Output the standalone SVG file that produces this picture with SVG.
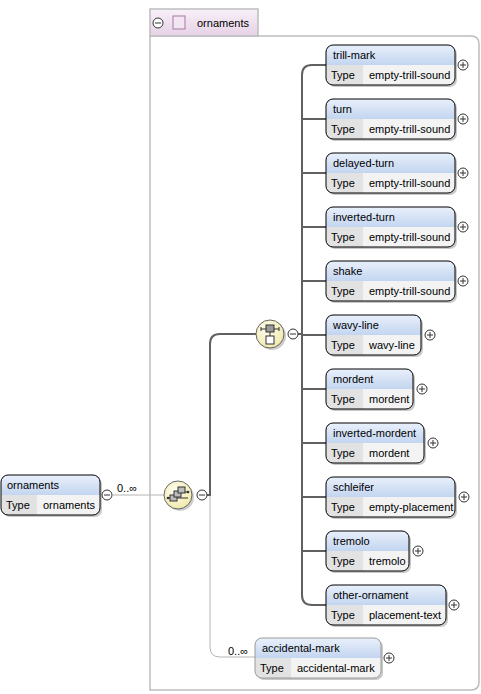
<svg xmlns="http://www.w3.org/2000/svg" width="481" height="694" viewBox="0 0 481 694">
<defs>
<linearGradient id="hdr" x1="0" y1="0" x2="0" y2="1"><stop offset="0" stop-color="#e9f0fb"/><stop offset="1" stop-color="#c3d5f0"/></linearGradient>
<linearGradient id="tab" x1="0" y1="0" x2="0" y2="1"><stop offset="0" stop-color="#f8f0f8"/><stop offset="1" stop-color="#e6d2e6"/></linearGradient>
<radialGradient id="ico" cx="0.4" cy="0.35" r="0.7"><stop offset="0" stop-color="#fffdf0"/><stop offset="1" stop-color="#f1e9a8"/></radialGradient>
</defs>
<style>
text{font-family:"Liberation Sans",Arial,sans-serif;font-size:11px;fill:#000}
.sh{fill:#9a9a9a;opacity:.55}
.hd{fill:url(#hdr)}
.tc{fill:#e2e2e2}
.vc{fill:#f3f3f3}
.ol{fill:none;stroke:#000;stroke-width:1}
.opt{fill:none;stroke:#9a9a9a;stroke-width:1}
.pc{fill:#fff;stroke:#333;stroke-width:1}
.pl{stroke:#333;stroke-width:1;fill:none}
.dk{fill:none;stroke:#606060;stroke-width:2}
.lt{fill:none;stroke:#b4b4b4;stroke-width:1}
</style>

<g id="group-ornaments">
<path d="M150,36H471Q479,36 479,44V682Q479,690 471,690H150Z" fill="none" stroke="#bdbdbd" stroke-width="1.5"/>
<rect x="150" y="9" width="108" height="27" fill="url(#tab)" stroke="#bdbdbd" stroke-width="1.5"/>
<circle class="pc" cx="158" cy="23" r="5"/><path class="pl" d="M155,23H161"/>
<rect x="173" y="16" width="12" height="13" fill="#f1e6f1" stroke="#a878a8"/>
<text x="197" y="27">ornaments</text>
</g>

<g id="connectors">
<path class="lt" d="M113,495H164"/>
<path class="dk" d="M207,495H210V344Q210,334 220,334H256"/>
<path class="lt" d="M210,496V647Q210,657 220,657H255"/>
<path class="dk" d="M298,334H302"/>
<path class="dk" d="M326,65H312Q302,65 302,75V595Q302,605 312,605H326"/>
<path class="dk" d="M302,119H326M302,173H326M302,227H326M302,281H326M302,335H326M302,389H326M302,443H326M302,497H326M302,551H326"/>
<text x="117" y="492">0..∞</text>
<text x="228" y="655">0..∞</text>
</g>

<g id="root-ornaments" transform="translate(1,475)">
<rect class="sh" x="2" y="2" width="99" height="40" rx="7"/>
<path class="hd" d="M0,20V7Q0,0 7,0H92Q99,0 99,7V20Z"/>
<path class="tc" d="M0,20H36V40H7Q0,40 0,33Z"/>
<path class="vc" d="M36,20H99V33Q99,40 92,40H36Z"/>
<rect class="ol" width="99" height="40" rx="7"/>
<text x="6" y="14">ornaments</text>
<text x="5" y="34">Type</text>
<text x="42" y="34">ornaments</text>
<circle class="pc" cx="106" cy="20" r="5"/><path class="pl" d="M103,20H109"/>
</g>

<g id="sequence" transform="translate(178,495)">
<circle cx="2" cy="2" r="14" fill="#9a9a9a" opacity=".5"/>
<circle r="14" fill="url(#ico)" stroke="#666"/>
<path d="M-10,3H10" stroke="#333"/>
<circle cx="-10" cy="3" r="1.3" fill="#333"/><circle cx="10" cy="-3" r="1.3" fill="#333"/>
<rect x="-8" y="0" width="7" height="6" fill="#bdbdbd" stroke="#333"/>
<rect x="-4" y="-4" width="7" height="6" fill="#bdbdbd" stroke="#333"/>
<rect x="0" y="-8" width="7" height="6" fill="#bdbdbd" stroke="#333"/>
<path d="M7,-3H10" stroke="#333"/>
<circle class="pc" cx="24" cy="0" r="5"/><path class="pl" d="M21,0H27"/>
</g>

<g id="choice" transform="translate(270,334)">
<circle cx="2" cy="2" r="14" fill="#9a9a9a" opacity=".5"/>
<circle r="14" fill="url(#ico)" stroke="#666"/>
<path d="M-9,-5H9M0,-2V2" stroke="#333"/>
<path d="M-9,-7V-3M9,-7V-3" stroke="#333"/>
<rect x="-4" y="-9" width="8" height="7" fill="#9a9a9a" stroke="#333"/>
<rect x="-4" y="2" width="8" height="8" fill="#fff" stroke="#333"/>
<circle class="pc" cx="23" cy="0" r="5"/><path class="pl" d="M20,0H26"/>
</g>

<g id="n-trill-mark" transform="translate(326,45)">
<rect class="sh" x="2" y="2" width="129" height="40" rx="7"/>
<path class="hd" d="M0,20V7Q0,0 7,0H122Q129,0 129,7V20Z"/>
<path class="tc" d="M0,20H37V40H7Q0,40 0,33Z"/>
<path class="vc" d="M37,20H129V33Q129,40 122,40H37Z"/>
<rect class="ol" width="129" height="40" rx="7"/>
<text x="7" y="14">trill-mark</text><text x="5" y="34">Type</text><text x="43" y="34">empty-trill-sound</text>
<circle class="pc" cx="137" cy="20" r="5"/><path class="pl" d="M134,20H140M137,17V23"/>
</g>

<g id="n-turn" transform="translate(326,99)">
<rect class="sh" x="2" y="2" width="129" height="40" rx="7"/>
<path class="hd" d="M0,20V7Q0,0 7,0H122Q129,0 129,7V20Z"/>
<path class="tc" d="M0,20H37V40H7Q0,40 0,33Z"/>
<path class="vc" d="M37,20H129V33Q129,40 122,40H37Z"/>
<rect class="ol" width="129" height="40" rx="7"/>
<text x="7" y="14">turn</text><text x="5" y="34">Type</text><text x="43" y="34">empty-trill-sound</text>
<circle class="pc" cx="137" cy="20" r="5"/><path class="pl" d="M134,20H140M137,17V23"/>
</g>

<g id="n-delayed-turn" transform="translate(326,153)">
<rect class="sh" x="2" y="2" width="129" height="40" rx="7"/>
<path class="hd" d="M0,20V7Q0,0 7,0H122Q129,0 129,7V20Z"/>
<path class="tc" d="M0,20H37V40H7Q0,40 0,33Z"/>
<path class="vc" d="M37,20H129V33Q129,40 122,40H37Z"/>
<rect class="ol" width="129" height="40" rx="7"/>
<text x="7" y="14">delayed-turn</text><text x="5" y="34">Type</text><text x="43" y="34">empty-trill-sound</text>
<circle class="pc" cx="137" cy="20" r="5"/><path class="pl" d="M134,20H140M137,17V23"/>
</g>

<g id="n-inverted-turn" transform="translate(326,207)">
<rect class="sh" x="2" y="2" width="129" height="40" rx="7"/>
<path class="hd" d="M0,20V7Q0,0 7,0H122Q129,0 129,7V20Z"/>
<path class="tc" d="M0,20H37V40H7Q0,40 0,33Z"/>
<path class="vc" d="M37,20H129V33Q129,40 122,40H37Z"/>
<rect class="ol" width="129" height="40" rx="7"/>
<text x="7" y="14">inverted-turn</text><text x="5" y="34">Type</text><text x="43" y="34">empty-trill-sound</text>
<circle class="pc" cx="137" cy="20" r="5"/><path class="pl" d="M134,20H140M137,17V23"/>
</g>

<g id="n-shake" transform="translate(326,261)">
<rect class="sh" x="2" y="2" width="129" height="40" rx="7"/>
<path class="hd" d="M0,20V7Q0,0 7,0H122Q129,0 129,7V20Z"/>
<path class="tc" d="M0,20H37V40H7Q0,40 0,33Z"/>
<path class="vc" d="M37,20H129V33Q129,40 122,40H37Z"/>
<rect class="ol" width="129" height="40" rx="7"/>
<text x="7" y="14">shake</text><text x="5" y="34">Type</text><text x="43" y="34">empty-trill-sound</text>
<circle class="pc" cx="137" cy="20" r="5"/><path class="pl" d="M134,20H140M137,17V23"/>
</g>

<g id="n-wavy-line" transform="translate(326,315)">
<rect class="sh" x="2" y="2" width="95" height="40" rx="7"/>
<path class="hd" d="M0,20V7Q0,0 7,0H88Q95,0 95,7V20Z"/>
<path class="tc" d="M0,20H37V40H7Q0,40 0,33Z"/>
<path class="vc" d="M37,20H95V33Q95,40 88,40H37Z"/>
<rect class="ol" width="95" height="40" rx="7"/>
<text x="7" y="14">wavy-line</text><text x="5" y="34">Type</text><text x="43" y="34">wavy-line</text>
<circle class="pc" cx="104" cy="20" r="5"/><path class="pl" d="M101,20H107M104,17V23"/>
</g>

<g id="n-mordent" transform="translate(326,369)">
<rect class="sh" x="2" y="2" width="87" height="40" rx="7"/>
<path class="hd" d="M0,20V7Q0,0 7,0H80Q87,0 87,7V20Z"/>
<path class="tc" d="M0,20H37V40H7Q0,40 0,33Z"/>
<path class="vc" d="M37,20H87V33Q87,40 80,40H37Z"/>
<rect class="ol" width="87" height="40" rx="7"/>
<text x="7" y="14">mordent</text><text x="5" y="34">Type</text><text x="43" y="34">mordent</text>
<circle class="pc" cx="96" cy="20" r="5"/><path class="pl" d="M93,20H99M96,17V23"/>
</g>

<g id="n-inverted-mordent" transform="translate(326,423)">
<rect class="sh" x="2" y="2" width="98" height="40" rx="7"/>
<path class="hd" d="M0,20V7Q0,0 7,0H91Q98,0 98,7V20Z"/>
<path class="tc" d="M0,20H37V40H7Q0,40 0,33Z"/>
<path class="vc" d="M37,20H98V33Q98,40 91,40H37Z"/>
<rect class="ol" width="98" height="40" rx="7"/>
<text x="7" y="14">inverted-mordent</text><text x="5" y="34">Type</text><text x="43" y="34">mordent</text>
<circle class="pc" cx="107" cy="20" r="5"/><path class="pl" d="M104,20H110M107,17V23"/>
</g>

<g id="n-schleifer" transform="translate(326,477)">
<rect class="sh" x="2" y="2" width="129" height="40" rx="7"/>
<path class="hd" d="M0,20V7Q0,0 7,0H122Q129,0 129,7V20Z"/>
<path class="tc" d="M0,20H37V40H7Q0,40 0,33Z"/>
<path class="vc" d="M37,20H129V33Q129,40 122,40H37Z"/>
<rect class="ol" width="129" height="40" rx="7"/>
<text x="7" y="14">schleifer</text><text x="5" y="34">Type</text><text x="43" y="34">empty-placement</text>
<circle class="pc" cx="138" cy="20" r="5"/><path class="pl" d="M135,20H141M138,17V23"/>
</g>

<g id="n-tremolo" transform="translate(326,531)">
<rect class="sh" x="2" y="2" width="83" height="40" rx="7"/>
<path class="hd" d="M0,20V7Q0,0 7,0H76Q83,0 83,7V20Z"/>
<path class="tc" d="M0,20H37V40H7Q0,40 0,33Z"/>
<path class="vc" d="M37,20H83V33Q83,40 76,40H37Z"/>
<rect class="ol" width="83" height="40" rx="7"/>
<text x="7" y="14">tremolo</text><text x="5" y="34">Type</text><text x="43" y="34">tremolo</text>
<circle class="pc" cx="92" cy="20" r="5"/><path class="pl" d="M89,20H95M92,17V23"/>
</g>

<g id="n-other-ornament" transform="translate(326,585)">
<rect class="sh" x="2" y="2" width="120" height="40" rx="7"/>
<path class="hd" d="M0,20V7Q0,0 7,0H113Q120,0 120,7V20Z"/>
<path class="tc" d="M0,20H37V40H7Q0,40 0,33Z"/>
<path class="vc" d="M37,20H120V33Q120,40 113,40H37Z"/>
<rect class="ol" width="120" height="40" rx="7"/>
<text x="7" y="14">other-ornament</text><text x="5" y="34">Type</text><text x="43" y="34">placement-text</text>
<circle class="pc" cx="128" cy="20" r="5"/><path class="pl" d="M125,20H131M128,17V23"/>
</g>

<g id="n-accidental-mark" transform="translate(255,638)">
<rect class="sh" x="2" y="2" width="126" height="40" rx="7"/>
<path class="hd" d="M0,20V7Q0,0 7,0H119Q126,0 126,7V20Z"/>
<path class="tc" d="M0,20H36V40H7Q0,40 0,33Z"/>
<path class="vc" d="M36,20H126V33Q126,40 119,40H36Z"/>
<rect class="opt" width="126" height="40" rx="7"/>
<text x="7" y="14">accidental-mark</text><text x="5" y="34">Type</text><text x="42" y="34">accidental-mark</text>
<circle class="pc" cx="134" cy="20" r="5"/><path class="pl" d="M131,20H137M134,17V23"/>
</g>
</svg>
